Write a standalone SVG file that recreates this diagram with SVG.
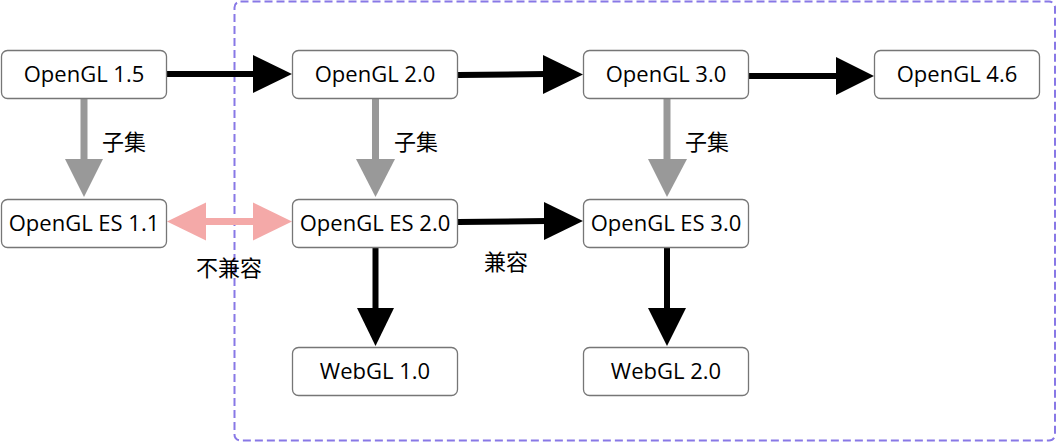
<svg xmlns="http://www.w3.org/2000/svg" width="1057" height="442" viewBox="0 0 1057 442">
<style>
.box{fill:#ffffff;stroke:#767676;stroke-width:1.3}
.t{font-family:"Open Sans","Noto Sans",sans-serif;font-size:22px;fill:#000;text-anchor:middle}
.lbl{font-family:"Open Sans","Noto Sans CJK SC",sans-serif;font-size:22px;fill:#000}
.blk{stroke:#000;stroke-width:6;fill:none}
.gry{stroke:#999999;stroke-width:7;fill:none}
.pnk{stroke:#F4A9A8;stroke-width:7;fill:none}
</style>
<rect id="group" x="234.5" y="1.5" width="820.5" height="439" rx="6" fill="none" stroke="#8878e6" stroke-width="2" stroke-dasharray="8 4"/>
<g id="connectors">
  <line class="blk" x1="166" y1="74" x2="256" y2="74"/>
  <polygon points="253,55 253,93 292,74" fill="#000"/>
  <line class="blk" x1="458" y1="75" x2="546" y2="74"/>
  <polygon points="543,55 543,94 583,74.5" fill="#000"/>
  <line class="blk" x1="749" y1="76" x2="838" y2="76"/>
  <polygon points="836,57 836,95 874,76" fill="#000"/>
  <line class="gry" x1="84" y1="98" x2="84" y2="162"/>
  <polygon points="65,159 103,159 84,197" fill="#999999"/>
  <line class="gry" x1="375.5" y1="98" x2="375.5" y2="162"/>
  <polygon points="356,159 395,159 375.5,197" fill="#999999"/>
  <line class="gry" x1="667" y1="98" x2="667" y2="162"/>
  <polygon points="648,159 687,159 667,197" fill="#999999"/>
  <line class="pnk" x1="204" y1="221.5" x2="256" y2="221.5"/>
  <polygon points="167,221.5 206,202.5 206,240.5" fill="#F4A9A8"/>
  <polygon points="292,221.5 253,202.5 253,240.5" fill="#F4A9A8"/>
  <line class="blk" x1="458" y1="222" x2="547" y2="221"/>
  <polygon points="544,202 544,240 583,221" fill="#000"/>
  <line class="blk" x1="375.5" y1="247" x2="375.5" y2="311"/>
  <polygon points="357,308 394,308 375.5,346" fill="#000"/>
  <line class="blk" x1="667" y1="247" x2="667" y2="311"/>
  <polygon points="648,308 686,308 667,346" fill="#000"/>
  <text class="lbl" x="102" y="150">子集</text>
  <text class="lbl" x="394" y="150">子集</text>
  <text class="lbl" x="685" y="150">子集</text>
  <text class="lbl" x="196" y="276">不兼容</text>
  <text class="lbl" x="484" y="270">兼容</text>
</g>
<g id="n_gl15"><rect class="box" x="1.5" y="50.5" width="165" height="48" rx="6"/><text class="t" x="84" y="82">OpenGL 1.5</text></g>
<g id="n_gl20"><rect class="box" x="292.5" y="50.5" width="165" height="48" rx="6"/><text class="t" x="375" y="82">OpenGL 2.0</text></g>
<g id="n_gl30"><rect class="box" x="583.5" y="50.5" width="165" height="48" rx="6"/><text class="t" x="666" y="82">OpenGL 3.0</text></g>
<g id="n_gl46"><rect class="box" x="874.5" y="50.5" width="165" height="48" rx="6"/><text class="t" x="957" y="82">OpenGL 4.6</text></g>
<g id="n_es11"><rect class="box" x="1.5" y="199.5" width="165" height="48" rx="6"/><text class="t" x="84" y="231">OpenGL ES 1.1</text></g>
<g id="n_es20"><rect class="box" x="292.5" y="199.5" width="165" height="48" rx="6"/><text class="t" x="375" y="231">OpenGL ES 2.0</text></g>
<g id="n_es30"><rect class="box" x="583.5" y="199.5" width="165" height="48" rx="6"/><text class="t" x="666" y="231">OpenGL ES 3.0</text></g>
<g id="n_web1"><rect class="box" x="292.5" y="347.5" width="165" height="48" rx="6"/><text class="t" x="375" y="379">WebGL 1.0</text></g>
<g id="n_web2"><rect class="box" x="583.5" y="347.5" width="165" height="48" rx="6"/><text class="t" x="666" y="379">WebGL 2.0</text></g>
</svg>
